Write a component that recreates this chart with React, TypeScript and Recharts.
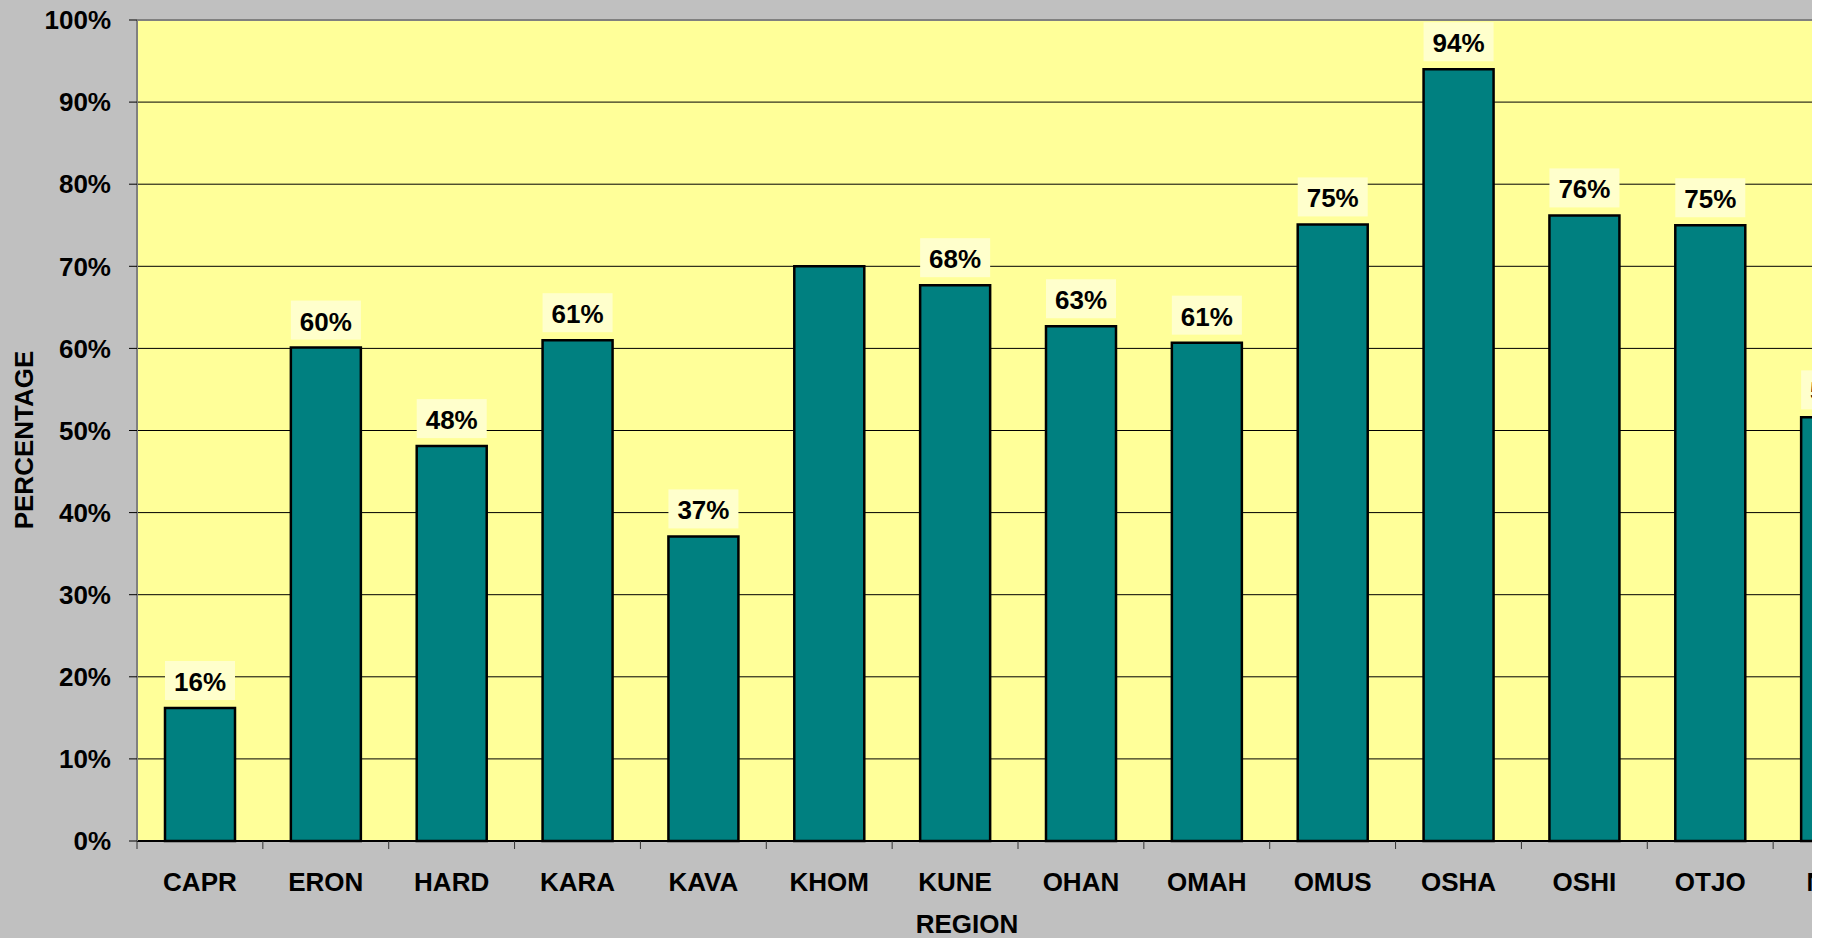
import React from "react";
import {
  BarChart,
  Bar,
  XAxis,
  YAxis,
  CartesianGrid,
  LabelList,
  ReferenceLine,
} from "recharts";

const regions = [
  "CAPR", "ERON", "HARD", "KARA", "KAVA", "KHOM", "KUNE",
  "OHAN", "OMAH", "OMUS", "OSHA", "OSHI", "OTJO", "NAM",
];
const percentages = [
  16.2, 60.1, 48.1, 61.0, 37.1, 70.0, 67.7,
  62.7, 60.7, 75.1, 94.0, 76.2, 75.0, 51.6,
];
const labelShown = [
  true, true, true, true, true, false, true,
  true, true, true, true, true, true, true,
];
const yTicks = [0, 10, 20, 30, 40, 50, 60, 70, 80, 90, 100];

const data = regions.map((r, i) => ({
  region: r,
  value: percentages[i],
  label: labelShown[i] ? `${Math.round(percentages[i])}%` : "",
}));

const CHART_W = 1934;
const CHART_H = 938;
const LEFT = 137;
const RIGHT = 35;
const TOP = 20;
const XAXIS_H = 97;
const PLOT_W = CHART_W - LEFT - RIGHT;
const STEP = PLOT_W / regions.length;
const FONT = "'Liberation Sans', Arial, Helvetica, sans-serif";

const XTick = (props: any) => {
  const { x, y, payload } = props;
  return (
    <g>
      <line x1={x - STEP / 2} x2={x - STEP / 2} y1={y} y2={y + 8} stroke="#333" strokeWidth={1} />
      <text
        x={x}
        y={y + 50}
        textAnchor="middle"
        fontFamily={FONT}
        fontWeight="bold"
        fontSize={26}
        fill="#000"
      >
        {payload.value}
      </text>
    </g>
  );
};

const DataLabel = (props: any) => {
  const { x, y, width, value } = props;
  if (!value) return null;
  return (
    <g>
      <rect x={x} y={y - 47} width={width} height={39} fill="#FFFFCC" />
      <text
        x={x + width / 2}
        y={y - 17}
        textAnchor="middle"
        fontFamily={FONT}
        fontWeight="bold"
        fontSize={26}
        fill="#000"
      >
        {value}
      </text>
    </g>
  );
};

export default function App() {
  return (
    <div
      style={{
        position: "fixed",
        left: 0,
        top: 0,
        width: 1812,
        height: 938,
        overflow: "hidden",
        background: "#C0C0C0",
      }}
    >
      <BarChart
        width={CHART_W}
        height={CHART_H}
        data={data}
        margin={{ top: TOP, right: RIGHT, bottom: 0, left: 0 }}
      >
        <CartesianGrid
          vertical={false}
          fill="#FFFF99"
          stroke="#000"
          strokeWidth={1}
          fillOpacity={1}
        />
        <XAxis
          dataKey="region"
          height={XAXIS_H}
          tickSize={0}
          tickMargin={0}
          tickLine={false}
          axisLine={{ stroke: "#000", strokeWidth: 2 }}
          tick={<XTick />}
          interval={0}
        />
        <YAxis
          width={LEFT}
          domain={[0, 100]}
          ticks={yTicks}
          interval={0}
          tickFormatter={(v: number) => `${v}%`}
          tickSize={8}
          tickMargin={18}
          tickLine={{ stroke: "#000", strokeWidth: 1 }}
          axisLine={{ stroke: "#808080", strokeWidth: 2 }}
          tick={{ fontFamily: FONT, fontWeight: "bold", fontSize: 26, fill: "#000" }}
        />
        <ReferenceLine y={100} stroke="#808080" strokeWidth={2} />
        <Bar
          dataKey="value"
          barSize={70}
          fill="#008080"
          stroke="#000"
          strokeWidth={2.5}
          isAnimationActive={false}
        >
          <LabelList dataKey="label" content={<DataLabel />} />
        </Bar>
        <text
          x={967}
          y={933}
          textAnchor="middle"
          fontFamily={FONT}
          fontWeight="bold"
          fontSize={26}
          fill="#000"
        >
          REGION
        </text>
        <text
          x={33}
          y={440}
          transform="rotate(-90 33 440)"
          textAnchor="middle"
          fontFamily={FONT}
          fontWeight="bold"
          fontSize={26}
          fill="#000"
        >
          PERCENTAGE
        </text>
      </BarChart>
    </div>
  );
}
